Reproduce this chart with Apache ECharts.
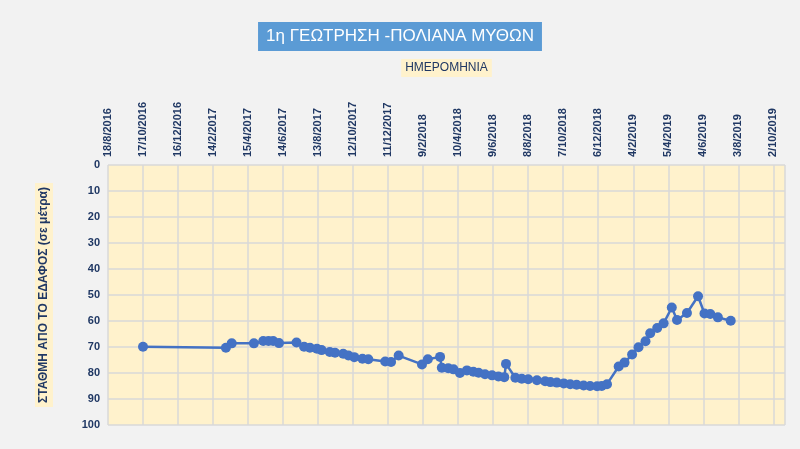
<!DOCTYPE html>
<html><head><meta charset="utf-8">
<script src="https://cdn.jsdelivr.net/npm/echarts@6/dist/echarts.min.js"></script>
<style>html,body{margin:0;padding:0;background:#f2f2f2}#c{width:800px;height:449px}</style>
</head><body><div id="c"></div>
<script>
// days since 18/8/2016
const days = [60,202,212,250,266,275,283,293,323,336,346,358,366,380,389,403,412,422,436,446,475,485,498,538,548,569,572,583,592,603,615,626,635,646,658,669,679,682,698,709,720,735,749,758,769,781,792,803,815,826,838,846,855,875,885,898,909,921,929,941,952,966,975,992,1011,1022,1032,1045,1067];
const depths = [69.9,70.3,68.6,68.6,67.7,67.7,67.7,68.5,68.3,69.9,70.3,70.7,71.2,71.9,72.2,72.6,73.3,73.9,74.5,74.7,75.6,75.8,73.3,76.7,74.7,73.8,78.0,78.2,78.6,80.0,79.0,79.5,79.9,80.5,80.9,81.3,81.6,76.5,81.8,82.2,82.4,82.8,83.2,83.5,83.7,84.0,84.3,84.5,84.8,85.0,85.1,85.0,84.3,77.5,76.0,72.9,70.1,67.8,64.7,62.7,60.9,54.8,59.6,56.9,50.5,57.1,57.3,58.6,59.9];
const base = Date.UTC(2016,7,18);
function fmt(d){const t=new Date(base+d*86400000);return t.getUTCDate()+'/'+(t.getUTCMonth()+1)+'/'+t.getUTCFullYear();}
const ch = echarts.init(document.getElementById('c'));
const lab = {color:'#203864',fontWeight:'bold',fontFamily:'Liberation Sans',fontSize:11};
ch.setOption({
  backgroundColor:'#f2f2f2',
  title:{text:'1η ΓΕΩΤΡΗΣΗ -ΠΟΛΙΑΝΑ ΜΥΘΩΝ',left:'center',top:22,backgroundColor:'#5b9bd5',padding:[6,8],
    textStyle:{color:'#fff',fontSize:17,fontWeight:'normal',fontFamily:'Liberation Sans'}},
  grid:{left:108,top:165,right:15,bottom:24},
  xAxis:{type:'value',position:'top',min:0,max:1160,interval:60,
    name:'ΗΜΕΡΟΜΗΝΙΑ',nameLocation:'middle',nameGap:88,
    nameTextStyle:{color:'#203864',fontSize:12,backgroundColor:'#fff2cc',padding:[3,4],fontFamily:'Liberation Sans'},
    axisLabel:Object.assign({rotate:90,formatter:v=>v>1140?'':fmt(v)},lab),
    axisLine:{show:false},axisTick:{show:false},
    splitLine:{show:true,lineStyle:{color:'#d9d9d9',width:1.5}}},
  yAxis:{type:'value',inverse:true,min:0,max:100,interval:10,
    name:'ΣΤΑΘΜΗ ΑΠΟ ΤΟ ΕΔΑΦΟΣ (σε μέτρα)',nameLocation:'middle',nameGap:55,
    nameTextStyle:{color:'#203864',fontSize:12,fontWeight:'bold',backgroundColor:'#fff2cc',padding:[3,4],fontFamily:'Liberation Sans'},
    axisLabel:lab,axisLine:{show:false},axisTick:{show:false},
    splitLine:{lineStyle:{color:'#d9d9d9',width:1.5}}},
  series:[{type:'line',data:days.map((d,i)=>[d,depths[i]]),symbol:'circle',symbolSize:10,
    lineStyle:{color:'#4472c4',width:2.5},itemStyle:{color:'#4472c4'},
    markArea:{silent:true,itemStyle:{color:'#fff2cc'},data:[[{xAxis:0,yAxis:0},{xAxis:1160,yAxis:100}]],z:-1}}]
});
</script></body></html>
